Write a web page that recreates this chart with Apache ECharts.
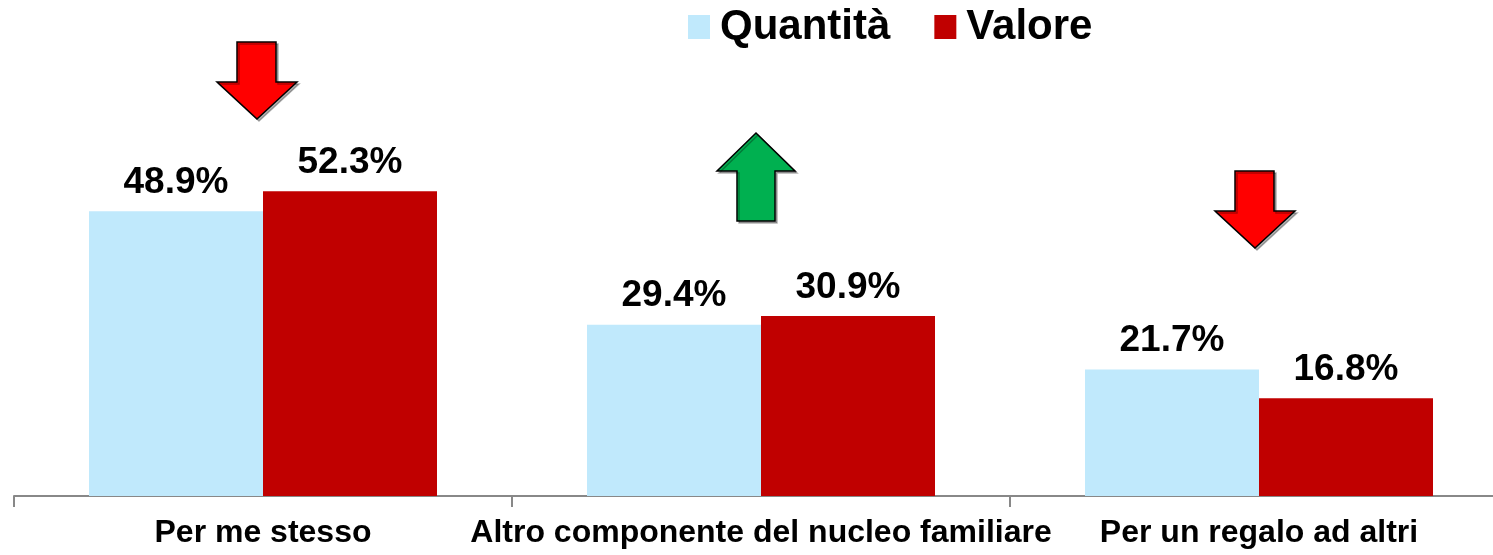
<!DOCTYPE html>
<html>
<head>
<meta charset="utf-8">
<script src="https://cdn.jsdelivr.net/npm/echarts@6/dist/echarts.min.js"></script>
<style>
  html, body { margin: 0; padding: 0; background: #fff; overflow: hidden; }
  /* axis runs a little past the right edge of the picture */
  #myChart { width: 1512px; height: 555px; }
</style>
</head>
<body>
<div id="myChart"></div>
<script>
const categories = ['Per me stesso', 'Altro componente del nucleo familiare', 'Per un regalo ad altri']
const quantita = [48.9, 29.4, 21.7]
const valore = [52.3, 30.9, 16.8]

const FONT = '"Liberation Sans", Arial, sans-serif'

// arrow outlines (decoration), w/h relative
function downArrow (x, y) {
  return [[x + 18, y], [x + 57, y], [x + 57, y + 40], [x + 78, y + 40], [x + 38, y + 77], [x - 2, y + 40], [x + 18, y + 40]]
}
function upArrow (x, y) {
  return [[x + 39, y], [x + 78, y + 38], [x + 58, y + 38], [x + 58, y + 88], [x + 20, y + 88], [x + 20, y + 38], [x, y + 38]]
}
const arrowStyle = (fill) => ({
  fill: fill,
  stroke: '#000',
  lineWidth: 1.5,
  shadowColor: 'rgba(0,0,0,0.3)',
  shadowOffsetX: 2,
  shadowOffsetY: 2,
  shadowBlur: 0
})

let myChart = echarts.init(document.getElementById('myChart'))
myChart.setOption({
  animation: false,
  legend: {
    left: 688,
    top: 6,
    padding: 0,
    itemWidth: 22,
    itemHeight: 24,
    itemGap: 44,
    icon: 'rect',
    textStyle: { fontFamily: FONT, fontWeight: 'bold', fontSize: 42, color: '#000', padding: [0, 0, 0, 5] },
    data: ['Quantità', 'Valore']
  },
  grid: { left: 14, top: 30, bottom: 59, right: 4 },
  xAxis: {
    type: 'category',
    data: categories,
    axisLine: { lineStyle: { color: '#888', width: 2 } },
    axisTick: { show: true, length: 11, lineStyle: { color: '#888', width: 2 } },
    axisLabel: { interval: 0, fontFamily: FONT, fontWeight: 'bold', fontSize: 32, color: '#000', margin: 21 }
  },
  yAxis: { type: 'value', min: 0, max: 80, show: false, splitLine: { show: false } },
  series: [
    {
      name: 'Quantità',
      type: 'bar',
      barWidth: 174,
      barGap: '0%',
      itemStyle: { color: '#C0E9FC' },
      label: { show: true, position: 'top', distance: 10, formatter: '{c}%', fontFamily: FONT, fontWeight: 'bold', fontSize: 37, color: '#000' },
      data: quantita
    },
    {
      name: 'Valore',
      type: 'bar',
      barWidth: 174,
      barGap: '0%',
      itemStyle: { color: '#C00000' },
      label: { show: true, position: 'top', distance: 10, formatter: '{c}%', fontFamily: FONT, fontWeight: 'bold', fontSize: 37, color: '#000' },
      data: valore
    }
  ],
  graphic: [
    { type: 'polygon', shape: { points: downArrow(219, 42) }, style: arrowStyle('#FF0000') },
    { type: 'polygon', shape: { points: upArrow(717, 133) }, style: arrowStyle('#00B050') },
    { type: 'polygon', shape: { points: downArrow(1217, 171) }, style: arrowStyle('#FF0000') }
  ]
})
</script>
</body>
</html>
